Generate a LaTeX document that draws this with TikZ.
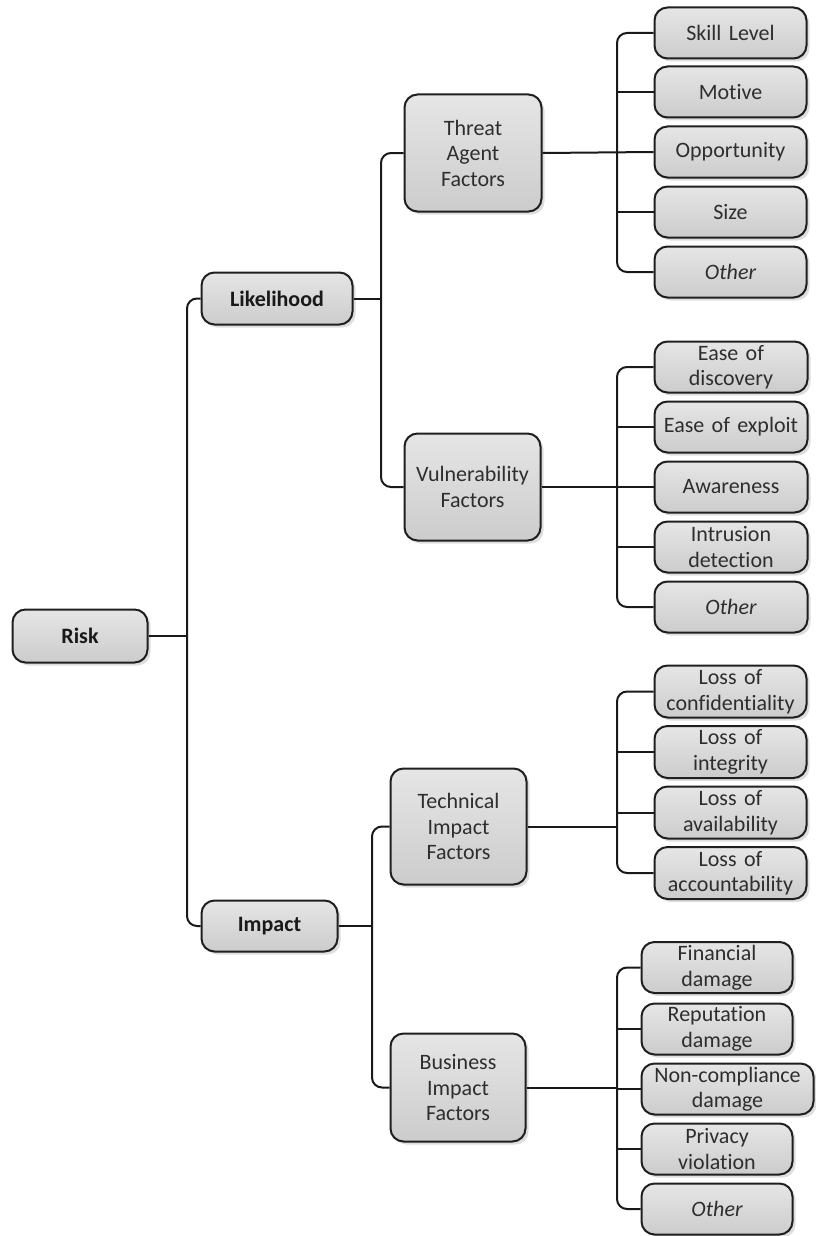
\documentclass[tikz,border=0pt]{standalone}
\usepackage{fontspec}
\setmainfont[Ligatures=NoCommon, WordSpace=0.8]{Carlito}
\usetikzlibrary{shadows}
\begin{document}
\begin{tikzpicture}[x=1pt,y=-1pt,
  box/.style={draw=black!88, line width=2pt, rounded corners=13pt,
    top color=black!10, bottom color=black!20,
    drop shadow={shadow xshift=3pt, shadow yshift=-3pt, fill=black, opacity=0.13},
    align=center, inner sep=0pt, text=black!82,
    font=\fontsize{22}{25.5}\selectfont},
  sz/.style 2 args={minimum width=#1pt, minimum height=#2pt, text width=#1pt-4pt},
  bold/.style={font=\fontsize{22}{25.5}\selectfont\bfseries, text=black!90},
  conn/.style={draw=black!90, line width=2pt, rounded corners=10pt}]
\useasboundingbox (0,0) rectangle (815,1236);

% root and first level
\node[box,bold,sz={135}{53}] (risk) at (80,636) {Risk};
\node[box,bold,sz={151}{52}] (lik) at (277,298.5) {Likelihood};
\node[box,bold,sz={136}{51}] (imp) at (269.5,926) {Impact};

% factor groups
\node[box,sz={137}{117}] (thr) at (473,153) {Threat\\Agent\\Factors};
\node[box,sz={136}{107}] (vul) at (472.5,487) {Vulnerability\\Factors};
\node[box,sz={136}{116}] (tec) at (458.5,826.5) {Technical\\Impact\\Factors};
\node[box,sz={135}{108}] (bus) at (458,1087.5) {Business\\Impact\\Factors};

% threat agent factors
\node[box,sz={152}{51}] (a1) at (730.5,33) {Skill Level};
\node[box,sz={152}{51}] (a2) at (730.5,92) {Motive};
\node[box,sz={152}{51}] (a3) at (730.5,152) {Opportunity};
\node[box,sz={152}{51}] (a4) at (730.5,212) {Size};
\node[box,sz={152}{51}] (a5) at (730.5,272) {\itshape Other};

% vulnerability factors
\node[box,sz={153}{51}] (b1) at (731,367) {Ease of\\discovery};
\node[box,sz={153}{51}] (b2) at (731,427) {Ease of exploit};
\node[box,sz={153}{51}] (b3) at (731,487) {Awareness};
\node[box,sz={153}{51}] (b4) at (731,547) {Intrusion\\detection};
\node[box,sz={153}{51}] (b5) at (731,607) {\itshape Other};

% technical impact factors
\node[box,sz={152}{52}] (c1) at (730.5,691.5) {Loss of\\confidentiality};
\node[box,sz={152}{52}] (c2) at (730.5,752) {Loss of\\integrity};
\node[box,sz={152}{52}] (c3) at (730.5,812.5) {Loss of\\availability};
\node[box,sz={152}{52}] (c4) at (730.5,873) {Loss of\\accountability};

% business impact factors
\node[box,sz={151}{51}] (d1) at (717,967.5) {Financial\\damage};
\node[box,sz={151}{51}] (d2) at (717,1029) {Reputation\\damage};
\node[box,sz={172}{51}] (d3) at (727.5,1089) {Non-compliance\\damage};
\node[box,sz={151}{51}] (d4) at (717,1149) {Privacy\\violation};
\node[box,sz={151}{51}] (d5) at (717,1209) {\itshape Other};

% trunk positions
\coordinate (tR) at (187,0);
\coordinate (tL) at (381,0);
\coordinate (tI) at (372,0);
\coordinate (tX) at (617,0);

% Risk branches
\draw[conn] (risk.east) -- (tR |- risk.east);
\draw[conn] (lik.west) -- (tR |- lik.west) -- (tR |- imp.west) -- (imp.west);

% Likelihood branches
\draw[conn] (lik.east) -- (tL |- lik.east);
\draw[conn] (thr.west) -- (tL |- thr.west) -- (tL |- vul.west) -- (vul.west);

% Impact branches
\draw[conn] (imp.east) -- (tI |- imp.east);
\draw[conn] (tec.west) -- (tI |- tec.west) -- (tI |- bus.west) -- (bus.west);

% threat agent leaves
\draw[conn] (thr.east) -- (a3.west);
\draw[conn] (a1.west) -- (tX |- a1.west) -- (tX |- a5.west) -- (a5.west);
\draw[conn] (tX |- a2.west) -- (a2.west);
\draw[conn] (tX |- a4.west) -- (a4.west);

% vulnerability leaves
\draw[conn] (vul.east) -- (b3.west);
\draw[conn] (b1.west) -- (tX |- b1.west) -- (tX |- b5.west) -- (b5.west);
\draw[conn] (tX |- b2.west) -- (b2.west);
\draw[conn] (tX |- b4.west) -- (b4.west);

% technical impact leaves
\draw[conn] (tec.east) -- (tX |- tec.east);
\draw[conn] (c1.west) -- (tX |- c1.west) -- (tX |- c4.west) -- (c4.west);
\draw[conn] (tX |- c2.west) -- (c2.west);
\draw[conn] (tX |- c3.west) -- (c3.west);

% business impact leaves
\draw[conn] (bus.east) -- (tX |- bus.east);
\draw[conn] (d1.west) -- (tX |- d1.west) -- (tX |- d5.west) -- (d5.west);
\draw[conn] (tX |- d2.west) -- (d2.west);
\draw[conn] (tX |- d3.west) -- (d3.west);
\draw[conn] (tX |- d4.west) -- (d4.west);
\end{tikzpicture}
\end{document}
